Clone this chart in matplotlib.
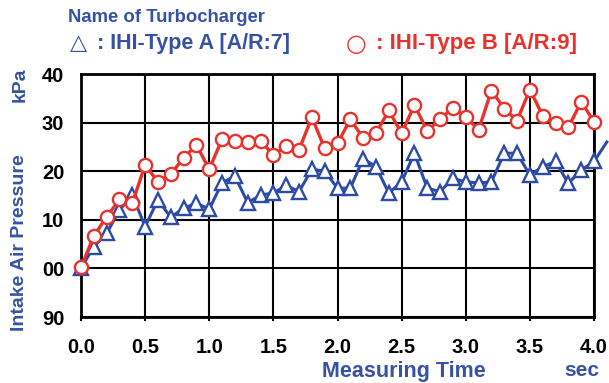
import matplotlib
matplotlib.use("Agg")
import matplotlib.pyplot as plt
from matplotlib.ticker import FuncFormatter

# time axis (sec)
time_a = [0.0, 0.1, 0.2, 0.3, 0.4, 0.5, 0.6, 0.7, 0.8, 0.9,
          1.0, 1.1, 1.2, 1.3, 1.4, 1.5, 1.6, 1.7, 1.8, 1.9,
          2.0, 2.1, 2.2, 2.3, 2.4, 2.5, 2.6, 2.7, 2.8, 2.9,
          3.0, 3.1, 3.2, 3.3, 3.4, 3.5, 3.6, 3.7, 3.8, 3.9,
          4.0, 4.1]
time_b = time_a[:41]

# intake air pressure (kPa)
type_a = [100.0, 104.5, 107.2, 112.0, 115.1, 108.6, 114.1, 110.5, 112.4, 113.4,
          112.2, 117.6, 119.0, 113.5, 115.1, 115.5, 117.1, 115.8, 120.4, 120.0,
          116.5, 116.5, 122.6, 120.9, 115.5, 117.8, 123.7, 116.5, 115.8, 118.5,
          117.8, 117.6, 117.8, 123.7, 123.7, 119.2, 120.9, 122.0, 117.5, 120.2,
          122.0, 126.0]
type_b = [100.2, 106.7, 110.6, 114.2, 113.4, 121.3, 117.8, 119.4, 122.7, 125.4,
          120.4, 126.6, 126.3, 126.1, 126.3, 123.3, 125.2, 124.4, 131.1, 124.7,
          125.7, 130.7, 126.8, 127.8, 132.5, 127.8, 133.6, 128.3, 130.7, 133.0,
          131.2, 128.5, 136.6, 132.9, 130.4, 136.8, 131.4, 129.9, 129.0, 134.3,
          130.2]

x_ticks = [0.0, 0.5, 1.0, 1.5, 2.0, 2.5, 3.0, 3.5, 4.0]
y_ticks = [90, 100, 110, 120, 130, 140]

BLUE = "#2c4ba6"
RED = "#e8322b"
TEXT_BLUE = "#3552a4"

plt.rcParams["font.family"] = ["Liberation Sans", "DejaVu Sans"]
plt.rcParams["font.weight"] = "bold"

fig = plt.figure(figsize=(6.09, 3.83), dpi=100)
ax = fig.add_axes([81 / 609, 66 / 383, 513 / 609, 243 / 383])

# last blue sample only shows as the line running off the edge
ax.plot(time_a, type_a, color=BLUE, lw=2.2, marker="^", ms=10,
        mfc="white", mec=BLUE, mew=1.7, markevery=list(range(41)),
        clip_on=False, zorder=3)
ax.plot(time_b, type_b, color=RED, lw=2.4, marker="o", ms=9.5,
        mfc="white", mec=RED, mew=1.7, clip_on=False, zorder=4)

ax.set_xlim(0, 4.0)
ax.set_ylim(90, 140)
ax.set_xticks(x_ticks)
ax.set_yticks(y_ticks)
ax.xaxis.set_major_formatter(FuncFormatter(lambda v, p: f"{v:.1f}"))
ax.yaxis.set_major_formatter(FuncFormatter(lambda v, p: f"{int(round(v)) % 100:02d}"))
ax.grid(True, color="black", lw=1.5)
ax.set_axisbelow(True)
for sp in ax.spines.values():
    sp.set_linewidth(2.0)
    sp.set_color("black")
ax.tick_params(axis="x", length=3, width=1.5, pad=12, labelsize=14.5)
ax.tick_params(axis="y", length=0, pad=12, labelsize=14.5)
for lab in ax.get_xticklabels() + ax.get_yticklabels():
    lab.set_fontweight("bold")

# header
fig.text(68 / 609, 1 - 18 / 383, "Name of Turbocharger", color=TEXT_BLUE,
         fontsize=13.3, fontweight="bold", va="center", ha="left")
fig.text(79 / 609, 1 - 43 / 383, "\u25B3", color=TEXT_BLUE, fontsize=16,
         fontweight="bold", va="center", ha="center", family="DejaVu Sans")
fig.text(97 / 609, 1 - 43 / 383, ": IHI-Type A [A/R:7]", color=TEXT_BLUE,
         fontsize=15.5, fontweight="bold", va="center", ha="left")
fig.text(356 / 609, 1 - 44 / 383, "\u25CB", color=RED, fontsize=17,
         fontweight="bold", va="center", ha="center", family="DejaVu Sans")
fig.text(376 / 609, 1 - 44 / 383, ": IHI-Type B [A/R:9]", color=RED,
         fontsize=16, fontweight="bold", va="center", ha="left")

# axis titles
fig.text(20 / 609, 1 - 243 / 383, "Intake Air Pressure", color=TEXT_BLUE,
         fontsize=14, fontweight="bold", rotation=90, va="center", ha="center")
fig.text(20 / 609, 1 - 85 / 383, "kPa", color=TEXT_BLUE,
         fontsize=14, fontweight="bold", rotation=90, va="center", ha="center")
fig.text(404 / 609, 1 - 371 / 383, "Measuring Time", color=TEXT_BLUE,
         fontsize=15.5, fontweight="bold", va="center", ha="center")
fig.text(582 / 609, 1 - 371 / 383, "sec", color=TEXT_BLUE,
         fontsize=15, fontweight="bold", va="center", ha="center")

fig.savefig("out.png", dpi=100, facecolor="white")
